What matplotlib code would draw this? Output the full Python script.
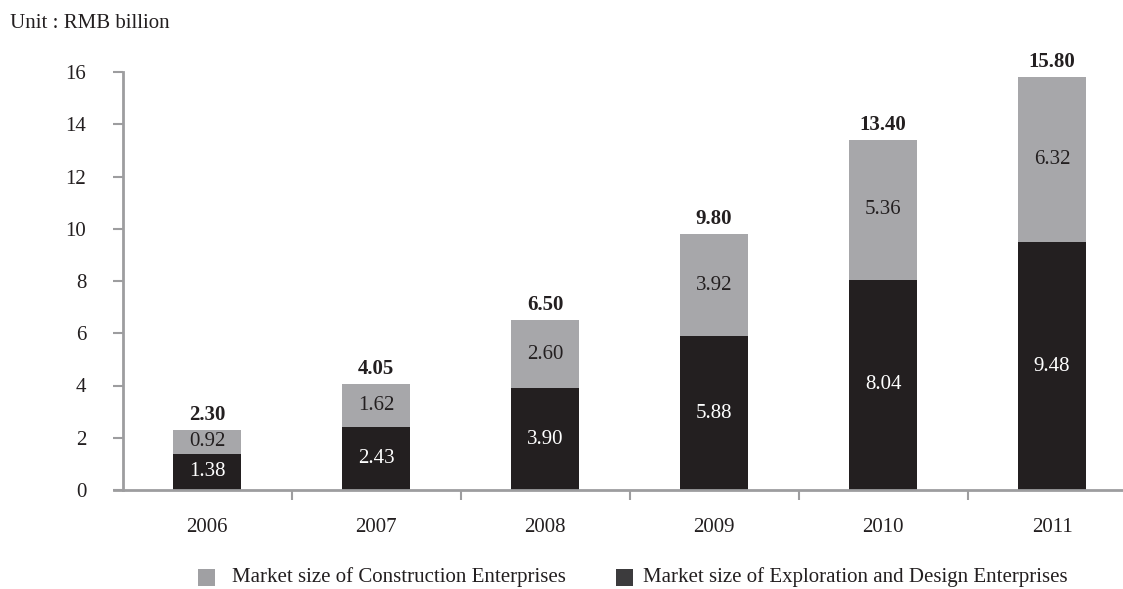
import matplotlib.pyplot as plt
from matplotlib.patches import Rectangle

years = ['2006', '2007', '2008', '2009', '2010', '2011']
exploration = [1.38, 2.43, 3.90, 5.88, 8.04, 9.48]
construction = [0.92, 1.62, 2.60, 3.92, 5.36, 6.32]
totals = [2.30, 4.05, 6.50, 9.80, 13.40, 15.80]

dark = '#231f20'
light = '#a7a7aa'
axis_grey = '#9d9d9f'
fs = 15

plt.rcParams['font.family'] = ['Liberation Serif', 'DejaVu Serif']

W, H = 1123, 589
fig = plt.figure(figsize=(W / 100, H / 100), dpi=100)
ax = fig.add_axes([122.5 / W, 99 / H, 1014 / W, 418 / H])

x = range(len(years))
w = 0.40
ax.bar(x, exploration, width=w, color=dark)
ax.bar(x, construction, width=w, bottom=exploration, color=light)

for i in x:
    ax.text(i, exploration[i] / 2, f'{exploration[i]:.2f}', ha='center', va='center',
            color='white', fontsize=fs)
    ax.text(i, exploration[i] + construction[i] / 2, f'{construction[i]:.2f}', ha='center',
            va='center', color=dark, fontsize=fs)
    ax.text(i, totals[i] + 0.2, f'{totals[i]:.2f}', ha='center', va='bottom',
            color=dark, fontsize=fs, fontweight='bold')

ax.set_xlim(-0.5, 5.5)
ax.set_ylim(0, 16)
ax.set_yticks(range(0, 17, 2))
# separators between years as major ticks, year labels as minor ticks
ax.set_xticks([i + 0.5 for i in range(5)])
ax.set_xticklabels([])
ax.set_xticks(list(x), minor=True)
ax.set_xticklabels(years, minor=True)
ax.tick_params(axis='x', which='minor', length=0, pad=20, labelsize=fs, labelcolor=dark)
ax.tick_params(axis='x', which='major', length=7, width=1.5, color=axis_grey)
ax.tick_params(axis='y', length=7, width=1.5, color=axis_grey, pad=19, labelsize=fs,
               labelcolor=dark)

for s in ['top', 'right']:
    ax.spines[s].set_visible(False)
for s in ['left', 'bottom']:
    ax.spines[s].set_color(axis_grey)
    ax.spines[s].set_linewidth(2)
ax.spines['bottom'].set_bounds(-0.55, 5.5)

fig.text(10 / W, 1 - 23 / H, 'Unit : RMB billion', fontsize=fs, color=dark, va='center')

# legend row drawn in figure pixels
legend_items = [
    (198, 232, '#a0a0a3', 'Market size of Construction Enterprises'),
    (616, 643, '#3c3b3d', 'Market size of Exploration and Design Enterprises'),
]
ly = 577
for sx, tx, col, label in legend_items:
    fig.add_artist(Rectangle((sx / W, (H - ly - 8.5) / H), 17 / W, 17 / H,
                             transform=fig.transFigure, color=col, lw=0))
    fig.text(tx / W, (H - ly) / H, label, fontsize=fs, color=dark, va='center')

fig.savefig('out.png', dpi=100)
